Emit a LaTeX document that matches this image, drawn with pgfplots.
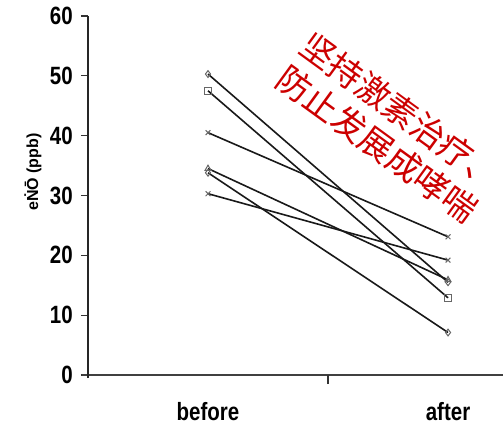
\documentclass[border=0pt]{standalone}
\usepackage{pgfplots}
\pgfplotsset{compat=1.18}
\usepackage{fontspec}
\setmainfont{Liberation Sans}
\newfontfamily\cjk{Noto Sans CJK SC}
\definecolor{wm}{RGB}{204,0,0}
\newcommand{\tl}[1]{\scalebox{0.82}[1]{#1}}
\begin{document}
\begin{tikzpicture}[x=1pt,y=1pt]
\begin{axis}[
  at={(88pt,49pt)}, anchor=south west,
  scale only axis, width=415pt, height=359pt,
  xmin=0.5, xmax=2.229, ymin=0, ymax=60,
  axis x line=bottom, axis y line=left,
  x axis line style={-, line width=1.8pt, draw=black!75, shorten <=-6pt},
  y axis line style={-, line width=1.3pt, draw=black!85, shorten <=-3pt},
  tick align=outside, major tick length=7pt,
  ytick={0,10,20,30,40,50,60},
  yticklabels={\tl{0},\tl{10},\tl{20},\tl{30},\tl{40},\tl{50},\tl{60}},
  ytick style={draw=black!80, line width=1.2pt},
  yticklabel style={font=\fontsize{25}{25}\selectfont\bfseries, anchor=east, inner sep=0pt, xshift=-8pt},
  xtick={1,2},
  xticklabels={\tl{before},\tl{after}},
  xtick style={draw=none},
  xticklabel style={font=\fontsize{25}{25}\selectfont\bfseries, anchor=base, inner sep=0pt, yshift=-38pt},
  extra x ticks={1.5}, extra x tick labels={},
  extra x tick style={xtick style={draw=black!80, line width=1.2pt}, major tick length=9pt},
  ylabel={e\.{N}\={O} (ppb)},
  every axis y label/.style={at={(axis description cs:-0.1325,0.565)}, rotate=90, anchor=center,
     font=\fontsize{16}{16}\selectfont\bfseries},
  clip=false,
  every axis plot/.append style={draw=black!90, line width=1.6pt, mark size=3.4pt,
     mark options={solid, draw=black!60, line width=1pt, fill=white}},
]
\addplot[mark=diamond] coordinates {(1,50.3) (2,15.5)};
\addplot[mark=square] coordinates {(1,47.5) (2,12.9)};
\addplot[mark=x] coordinates {(1,40.5) (2,23.1)};
\addplot[mark=triangle] coordinates {(1,34.5) (2,15.9)};
\addplot[mark=diamond] coordinates {(1,33.8) (2,7.1)};
\addplot[mark=x] coordinates {(1,30.3) (2,19.2)};
\end{axis}
\node[rotate=-36, text=wm, align=left, inner sep=0pt,
      font=\cjk\fontsize{34}{41}\selectfont] at (389,296.5)
      {坚持激素治疗、\\防止发展成哮喘};
\pgfresetboundingbox
\path[use as bounding box] (0,0) rectangle (503,424);
\end{tikzpicture}
\end{document}
